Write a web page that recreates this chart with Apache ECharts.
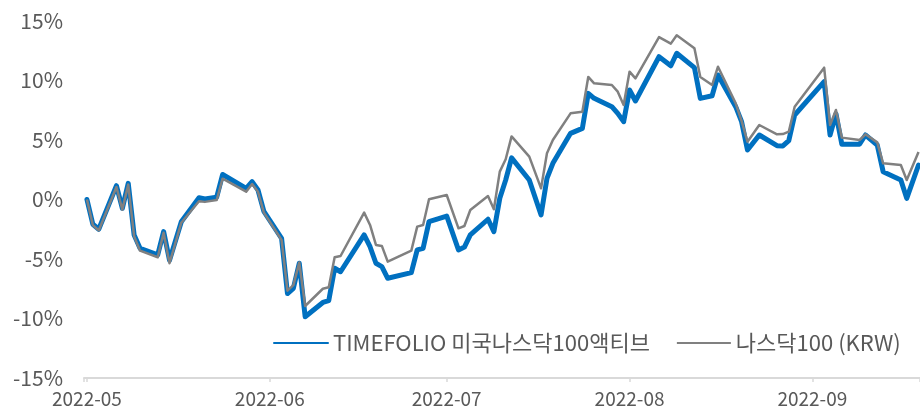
<!DOCTYPE html>
<html>
<head>
<meta charset="utf-8">
<script src="https://cdn.jsdelivr.net/npm/echarts@6/dist/echarts.min.js"></script>
<style>html,body{margin:0;padding:0;background:#fff}#c{width:920px;height:408px}</style>
</head>
<body>
<div id="c"></div>
<script>
const dates = ['2022-05-01','2022-05-02','2022-05-03','2022-05-06','2022-05-07','2022-05-08','2022-05-09','2022-05-10','2022-05-13','2022-05-14','2022-05-15','2022-05-17','2022-05-20','2022-05-21','2022-05-23','2022-05-24','2022-05-28','2022-05-29','2022-05-30','2022-05-31','2022-06-03','2022-06-04','2022-06-05','2022-06-06','2022-06-07','2022-06-10','2022-06-11','2022-06-12','2022-06-13','2022-06-17','2022-06-18','2022-06-19','2022-06-20','2022-06-21','2022-06-25','2022-06-26','2022-06-27','2022-06-28','2022-07-01','2022-07-03','2022-07-04','2022-07-05','2022-07-08','2022-07-09','2022-07-10','2022-07-11','2022-07-12','2022-07-15','2022-07-17','2022-07-18','2022-07-19','2022-07-22','2022-07-24','2022-07-25','2022-07-26','2022-07-29','2022-07-30','2022-07-31','2022-08-01','2022-08-02','2022-08-06','2022-08-08','2022-08-09','2022-08-12','2022-08-13','2022-08-15','2022-08-16','2022-08-19','2022-08-20','2022-08-21','2022-08-23','2022-08-26','2022-08-27','2022-08-28','2022-08-29','2022-09-03','2022-09-04','2022-09-05','2022-09-06','2022-09-09','2022-09-10','2022-09-12','2022-09-13','2022-09-16','2022-09-17','2022-09-19'];
const fundReturns = [0,-2.08,-2.5,1.16,-0.74,1.36,-2.98,-4.1,-4.66,-2.7,-5.1,-1.87,0.15,0.04,0.2,2.1,0.94,1.5,0.8,-1.0,-3.26,-7.9,-7.46,-5.36,-9.85,-8.65,-8.5,-5.78,-6.07,-2.98,-3.97,-5.36,-5.64,-6.62,-6.15,-4.24,-4.1,-1.86,-1.39,-4.24,-4.0,-2.98,-1.66,-2.7,0.1,1.64,3.5,1.64,-1.3,1.78,3.04,5.56,5.98,8.92,8.5,7.8,7.24,6.54,9.2,8.28,12.0,11.24,12.29,11.08,8.5,8.72,10.46,7.8,6.54,4.16,5.42,4.52,4.5,4.95,7.1,9.9,5.42,7.2,4.64,4.64,5.42,4.58,2.34,1.64,0.1,2.9];
const indexReturns = [0,-2.15,-2.6,1.05,-0.85,1.25,-3.1,-4.3,-4.85,-2.8,-5.35,-1.95,-0.15,-0.2,-0.05,1.75,0.66,1.3,0.65,-1.1,-3.4,-7.66,-7.2,-5.3,-8.95,-7.5,-7.38,-4.86,-4.75,-1.1,-2.14,-3.82,-3.9,-5.22,-4.3,-2.28,-2.14,0.02,0.38,-2.42,-2.23,-0.88,0.29,-0.82,2.34,3.38,5.3,3.6,0.94,3.88,5.0,7.24,7.38,10.3,9.76,9.62,9.06,7.94,10.74,10.18,13.65,13.1,13.8,12.7,10.3,9.62,11.16,8.08,6.6,4.86,6.26,5.48,5.5,5.7,7.8,11.08,6.26,7.52,5.2,5.0,5.48,4.8,3.04,2.9,1.64,4.0];
const seriesNames = ['TIMEFOLIO 미국나스닥100액티브', '나스닥100 (KRW)'];
const yMin = -15, yMax = 15, yStep = 5;
const xStart = '2022-04-30 12:00', xEnd = '2022-09-19 06:00';

const font = 'Noto Sans CJK KR';
const textColor = '#595959';
const chart = echarts.init(document.getElementById('c'), null, {renderer: 'canvas'});
const toPairs = vals => dates.map((d, i) => [d, vals[i]]);
const monthFmt = v => echarts.time.format(v, '{yyyy}-{MM}', false);

chart.setOption({
  animation: false,
  textStyle: {fontFamily: font},
  grid: {left: 84, right: 0, top: 21, bottom: 30, outerBoundsMode: 'none'},
  legend: {
    left: 268, top: 327, itemWidth: 54, itemHeight: 14, itemGap: 26,
    itemStyle: {opacity: 0},
    textStyle: {fontFamily: font, fontSize: 22, color: textColor},
    data: seriesNames
  },
  xAxis: [
    {
      type: 'time', min: xStart, max: xEnd, splitNumber: 5,
      minInterval: 28 * 86400000,
      axisLine: {show: false}, axisTick: {show: false}, splitLine: {show: false},
      axisLabel: {formatter: monthFmt, fontFamily: font, fontSize: 19, color: textColor, margin: 11,
        showMinLabel: false, showMaxLabel: false}
    },
    {
      type: 'time', min: xStart, max: xEnd, splitNumber: 5, position: 'bottom',
      minInterval: 28 * 86400000,
      axisLine: {show: true, onZero: true, lineStyle: {color: '#d9d9d9', width: 2}},
      axisTick: {show: true, length: 4, lineStyle: {color: '#d9d9d9', width: 1.5}},
      axisLabel: {show: false}, splitLine: {show: false}
    }
  ],
  yAxis: {
    type: 'value', min: yMin, max: yMax, interval: yStep,
    axisLine: {show: false}, axisTick: {show: false}, splitLine: {show: false},
    axisLabel: {formatter: '{value}%', fontFamily: font, fontSize: 21, color: textColor, margin: 21}
  },
  series: [
    {
      name: seriesNames[0], type: 'line', xAxisIndex: 0, data: toPairs(fundReturns),
      symbol: 'none', color: '#0070C0',
      lineStyle: {width: 5, color: '#0070C0', join: 'round', cap: 'round'}
    },
    {
      name: seriesNames[1], type: 'line', xAxisIndex: 0, data: toPairs(indexReturns),
      symbol: 'none', color: '#808080',
      lineStyle: {width: 2.5, color: '#808080', join: 'round'}
    }
  ]
});
</script>
</body>
</html>
